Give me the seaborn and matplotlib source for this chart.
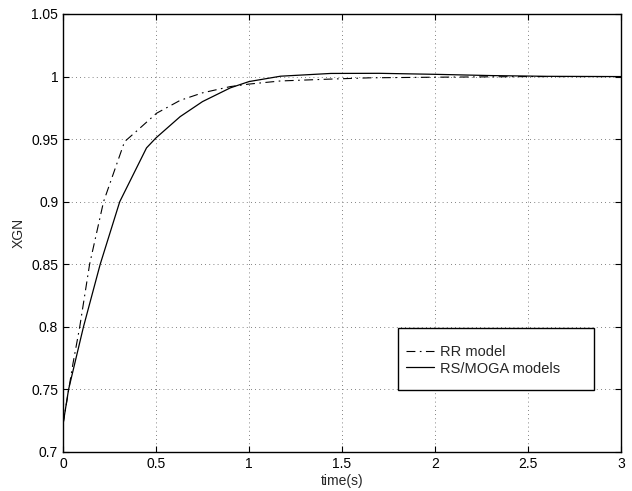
import matplotlib
matplotlib.use("Agg")
import matplotlib.pyplot as plt
from matplotlib.patches import Rectangle
import seaborn as sns
import pandas as pd

# RS/MOGA models (solid)
t_rs = [0, 0.03, 0.11, 0.2, 0.305, 0.449, 0.5, 0.63, 0.75, 0.9, 1.0, 1.17, 1.44, 1.7, 2.0, 2.3, 2.6, 3.0]
v_rs = [0.722, 0.75, 0.80, 0.85, 0.90, 0.943, 0.951, 0.968, 0.980, 0.991, 0.996, 1.0003, 1.0025, 1.0026,
        1.0018, 1.0008, 1.0002, 1.0]

# RR model (dash-dot)
t_rr = [0, 0.054, 0.09, 0.143, 0.218, 0.331, 0.4, 0.503, 0.63, 0.75, 0.9, 1.0, 1.17, 1.44, 1.65, 2.0, 2.5, 3.0]
v_rr = [0.722, 0.771, 0.80, 0.85, 0.90, 0.948, 0.957, 0.9707, 0.981, 0.987, 0.992, 0.994, 0.9965, 0.998,
        0.999, 0.9995, 1.0, 1.0]

x_ticks = [0, 0.5, 1, 1.5, 2, 2.5, 3]
x_tick_labels = ["0", "0.5", "1", "1.5", "2", "2.5", "3"]
y_ticks = [0.7, 0.75, 0.8, 0.85, 0.9, 0.95, 1.0, 1.05]
y_tick_labels = ["0.7", "0.75", "0.8", "0.85", "0.9", "0.95", "1", "1.05"]

sns.set_style("ticks")
plt.rcParams["font.family"] = ["Liberation Sans", "DejaVu Sans"]
plt.rcParams["font.size"] = 10

df_rr = pd.DataFrame({"t": t_rr, "v": v_rr})
df_rs = pd.DataFrame({"t": t_rs, "v": v_rs})

fig = plt.figure(figsize=(6.32, 4.91), dpi=100)
ax = fig.add_axes([63 / 632, 39 / 491, 558 / 632, 438 / 491])

sns.lineplot(data=df_rr, x="t", y="v", ax=ax, color="black", lw=0.8,
             label="RR model", sort=False)
sns.lineplot(data=df_rs, x="t", y="v", ax=ax, color="black", lw=0.9,
             label="RS/MOGA models", sort=False)
ax.lines[0].set_dashes((8, 4, 1.5, 4))

ax.set_xlim(0, 3)
ax.set_ylim(0.7, 1.05)
ax.set_xticks(x_ticks)
ax.set_xticklabels(x_tick_labels)
ax.set_yticks(y_ticks)
ax.set_yticklabels(y_tick_labels)
ax.tick_params(direction="in", top=True, right=True, length=4, width=0.8,
               labelsize=10, pad=3.5, colors="black")
ax.grid(True, color="0.35", linestyle=(0, (1, 4)), linewidth=0.6)
for s in ax.spines.values():
    s.set_visible(True)
    s.set_linewidth(1.0)
    s.set_color("black")

ax.set_xlabel("time(s)", fontsize=10, labelpad=2)
ax.set_ylabel("XGN", fontsize=10, labelpad=4)

# legend box
box = Rectangle((0.601, 0.1416), 0.3505, 0.141, transform=ax.transAxes,
                facecolor="white", edgecolor="black", linewidth=1.0, zorder=5)
ax.add_patch(box)
leg = ax.legend(loc="center left", bbox_to_anchor=(0.607, 0.209),
                borderaxespad=0, frameon=False, fontsize=10.5, handlelength=1.9,
                handletextpad=0.45, labelspacing=0.15, borderpad=0.3)
leg.set_zorder(6)

fig.savefig("out.png", dpi=100, facecolor="white")
